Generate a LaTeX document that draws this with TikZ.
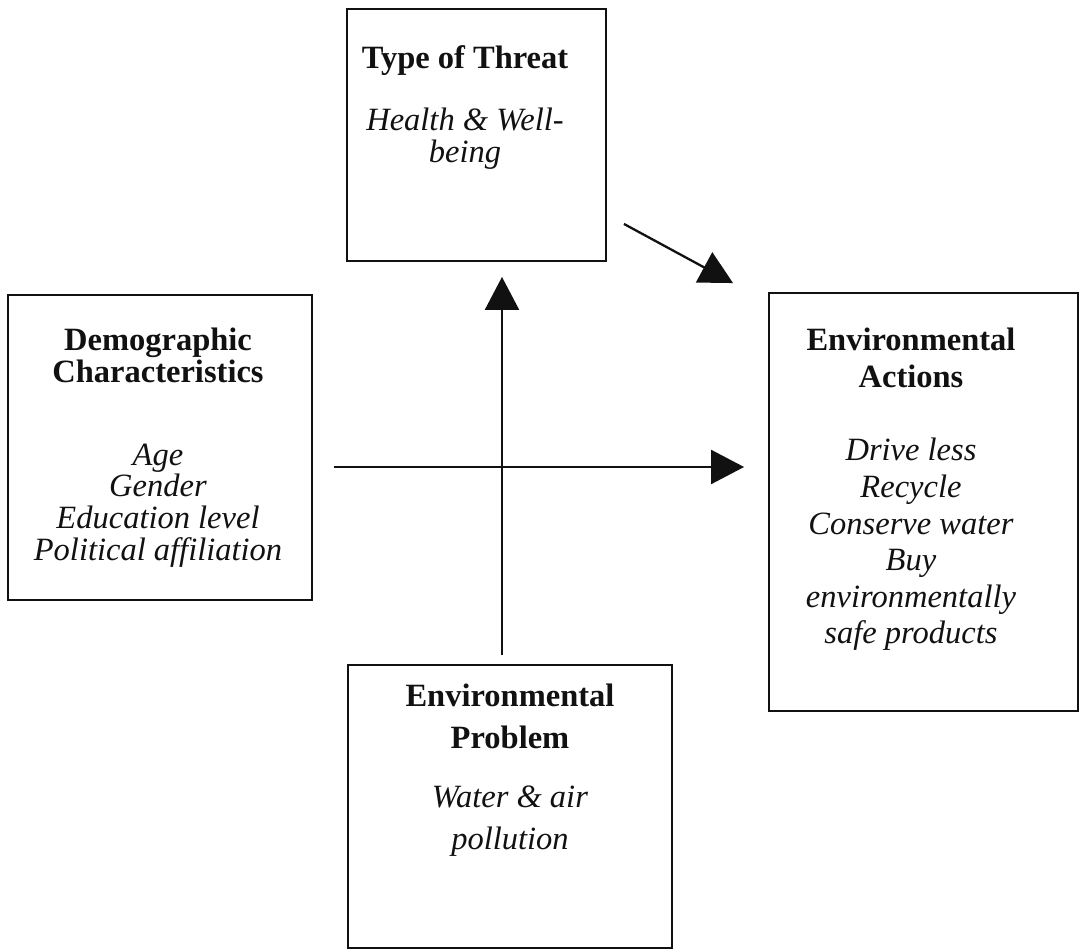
\documentclass[tikz,border=0pt]{standalone}
\usepackage{fontspec}
\setmainfont{Liberation Serif}
\usepackage{tikz}
\usetikzlibrary{arrows.meta,positioning,calc}
\definecolor{cink}{HTML}{111111}
\tikzset{
  box/.style={draw=cink, line width=1.1pt, inner sep=0pt},
  txt/.style={inner sep=0pt, align=center, text=cink, font=\fontsize{18.5pt}{#1}\selectfont},
  txt/.default=18pt,
  pre/.style={-{Triangle[length=6.6mm, width=6.8mm]}, line width=1.3pt, draw=cink},
}

\begin{document}
\begin{tikzpicture}[x=0.02cm,y=-0.02cm]
\useasboundingbox (0,0) rectangle (1080,952);
% the four frames
\node[box, minimum width=5.18cm, minimum height=5.04cm] (threat) at (476.5,135) {};
\node[box, minimum width=6.08cm, minimum height=6.1cm] (demo) at (160,447.5) {};
\node[box, minimum width=6.18cm, minimum height=8.36cm] (action) at (923.5,502) {};
\node[box, minimum width=6.48cm, minimum height=5.66cm] (problem) at (510,806.5) {};
% their texts
\node[txt=18pt, below=0.74cm of threat.north, xshift=-0.23cm] (threattxt)
  {\textbf{Type of Threat}\\[17.5pt]\textit{Health \& Well-}\\\textit{being}};
\node[txt=18pt, below=0.68cm of demo.north, xshift=-0.04cm] (demotxt)
  {\textbf{Demographic}\\\textbf{Characteristics}\\[29pt]\textit{Age}\\\textit{Gender}\\\textit{Education level}\\\textit{Political affiliation}};
\node[txt=20.8pt, below=0.72cm of action.north, xshift=-0.25cm] (actiontxt)
  {\textbf{Environmental}\\\textbf{Actions}\\[21pt]\textit{Drive less}\\\textit{Recycle}\\\textit{Conserve water}\\\textit{Buy}\\\textit{environmentally}\\\textit{safe products}};
\node[txt=23.9pt, below=0.4cm of problem.north] (problemtxt)
  {\textbf{Environmental}\\\textbf{Problem}\\[9.7pt]\textit{Water \& air}\\\textit{pollution}};
% arrows
\coordinate (hub) at (502,467);
\draw[pre, shorten <=0.18cm, shorten >=0.3cm] (problem.north -| hub) -- (threat.south -| hub);
\draw[pre, shorten <=0.42cm, shorten >=0.48cm] (demo.east |- hub) -- (action.west |- hub);
\draw[pre] ([shift={(17,-38)}]threat.south east) -- ([shift={(-35,-9)}]action.north west);
\end{tikzpicture}
\end{document}
